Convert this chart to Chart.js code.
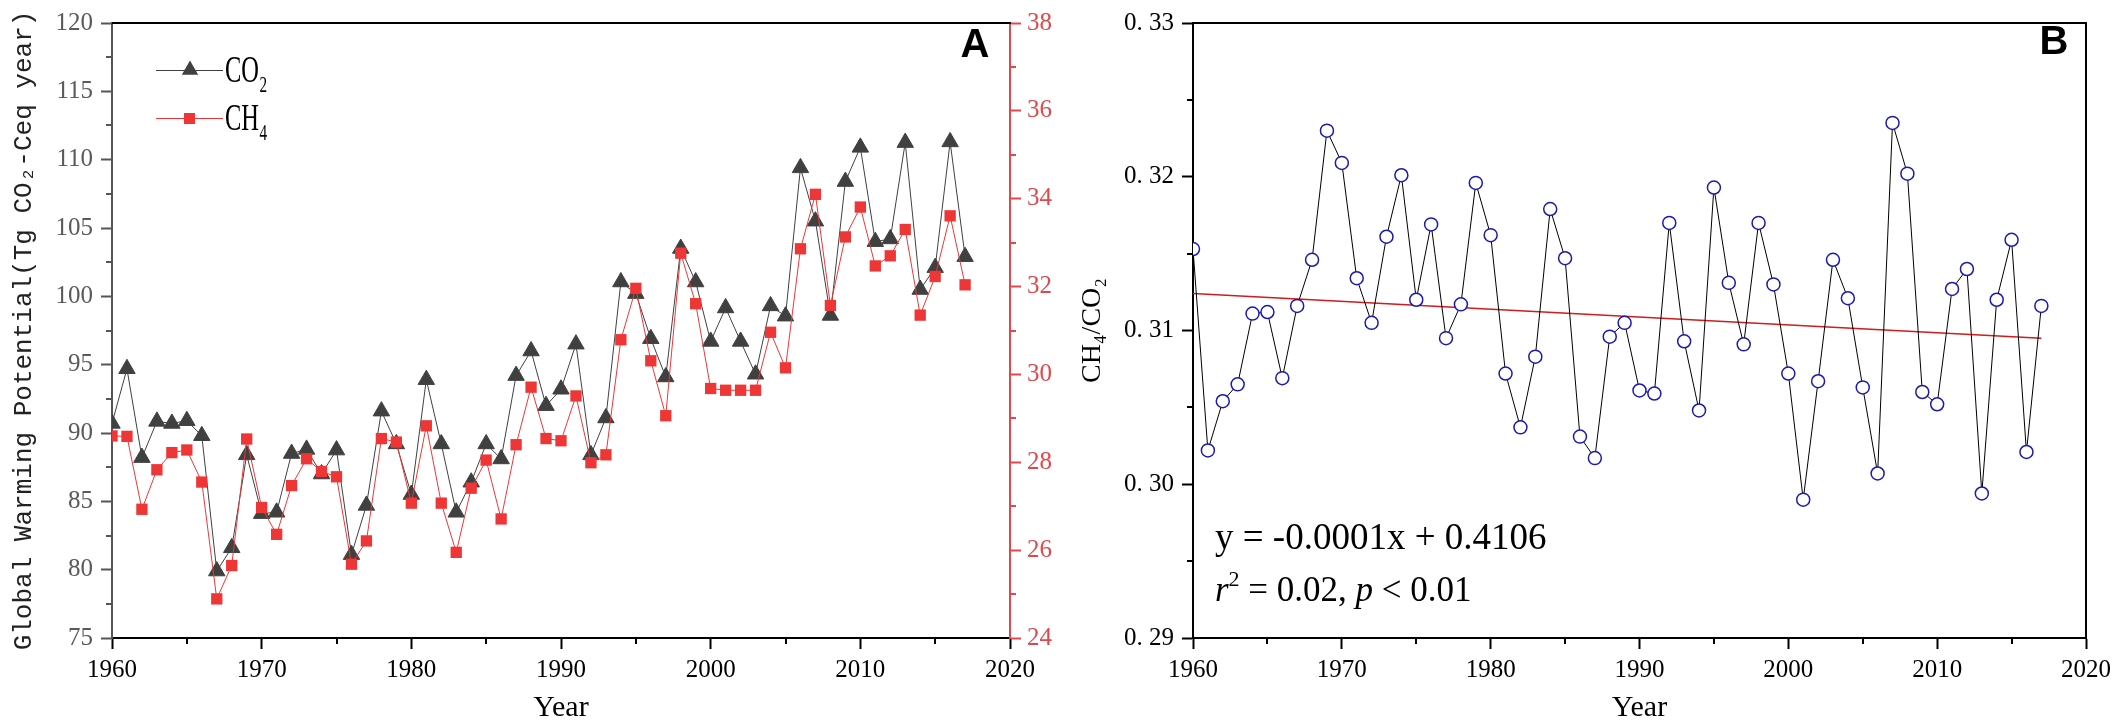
<!DOCTYPE html>
<html>
<head>
<meta charset="utf-8">
<script src="https://cdn.jsdelivr.net/npm/chart.js@4.4.1/dist/chart.umd.min.js"></script>
<style>
  html, body { margin: 0; padding: 0; background: #fff; }
  #wrap { position: relative; width: 2117px; height: 725px; overflow: hidden; }
  #chartA { position: absolute; left: 0; top: 0; }
  #chartB { position: absolute; left: 1060px; top: 0; }
</style>
</head>
<body>
<div id="wrap">
  <canvas id="chartA" width="1060" height="725"></canvas>
  <canvas id="chartB" width="1057" height="725"></canvas>
</div>
<script>
// ---- data ----
const years = [1960, 1961, 1962, 1963, 1964, 1965, 1966, 1967, 1968, 1969,
               1970, 1971, 1972, 1973, 1974, 1975, 1976, 1977, 1978, 1979,
               1980, 1981, 1982, 1983, 1984, 1985, 1986, 1987, 1988, 1989,
               1990, 1991, 1992, 1993, 1994, 1995, 1996, 1997, 1998, 1999,
               2000, 2001, 2002, 2003, 2004, 2005, 2006, 2007, 2008, 2009,
               2010, 2011, 2012, 2013, 2014, 2015, 2016, 2017];

// GWP of CO2 (left axis)
const co2 = [90.7, 94.7, 88.2, 90.85, 90.7, 90.9, 89.8, 79.9, 81.6, 88.4,
             84.1, 84.2, 88.5, 88.8, 87.0, 88.75, 81.1, 84.7, 91.6, 89.2,
             85.5, 93.9, 89.2, 84.2, 86.4, 89.2, 88.1, 94.2, 96.0, 92.0,
             93.2, 96.5, 88.4, 91.1, 101.05, 100.2, 96.9, 94.1, 103.5, 101.05,
             96.7, 99.15, 96.7, 94.3, 99.3, 98.55, 109.4, 105.5, 98.6, 108.4,
             110.9, 104.0, 104.2, 111.25, 100.5, 102.1, 111.3, 102.9];

// GWP of CH4 (right axis)
const ch4 = [28.6, 28.59, 26.93, 27.83, 28.22, 28.28, 27.55, 24.89, 25.65, 28.53,
             26.97, 26.36, 27.47, 28.08, 27.79, 27.67, 25.68, 26.21, 28.54, 28.46,
             27.07, 28.83, 27.07, 25.95, 27.41, 28.05, 26.71, 28.4, 29.71, 28.54,
             28.49, 29.51, 27.99, 28.17, 30.79, 31.96, 30.31, 29.06, 32.76, 31.61,
             29.68, 29.64, 29.64, 29.64, 30.96, 30.15, 32.86, 34.1, 31.57, 33.13,
             33.81, 32.47, 32.7, 33.3, 31.35, 32.23, 33.61, 32.04];

// CH4/CO2 ratio
const ratio = [0.3153, 0.3022, 0.3054, 0.3065, 0.3111, 0.3112, 0.3069, 0.3116, 0.3146, 0.3230,
               0.3209, 0.3134, 0.3105, 0.3161, 0.3201, 0.3120, 0.3169, 0.3095, 0.3117, 0.3196,
               0.3162, 0.3072, 0.3037, 0.3083, 0.3179, 0.3147, 0.3031, 0.3017, 0.3096, 0.3105,
               0.3061, 0.3059, 0.3170, 0.3093, 0.3048, 0.3193, 0.3131, 0.3091, 0.3170, 0.3130,
               0.3072, 0.2990, 0.3067, 0.3146, 0.3121, 0.3063, 0.3007, 0.3235, 0.3202, 0.3060,
               0.3052, 0.3127, 0.3140, 0.2994, 0.3120, 0.3159, 0.3021, 0.3116];

// fitted trend line end points
const trendYears = [1960, 2017];
const trendValues = [0.3124, 0.3095];

const xTicks = { min: 1960, max: 2020, step: 10 };
const leftTicks = { min: 75, max: 120, step: 5 };
const rightTicks = { min: 24, max: 38, step: 2 };
const ratioTicks = { min: 0.29, max: 0.33, step: 0.01 };

// ---- styles ----
const serif = "'Liberation Serif', 'Times New Roman', serif";
const mono = "'Liberation Mono', 'DejaVu Sans Mono', monospace";
const grayCol = '#404040';
const axisGray = '#555555';
const redCol = '#ee3636';
const axisRed = '#e2474b';
const blueCol = '#1a1ab4';

Chart.defaults.font.family = serif;
Chart.defaults.animation = false;

function pts(xs, vals) { return xs.map((x, i) => ({ x: x, y: vals[i] })); }

// small ticks halfway between the labelled ones
function minorTicks(axes) {
  return {
    id: 'minorTicks',
    afterDraw(chart) {
      const ctx = chart.ctx;
      axes.forEach(a => {
        const scale = chart.scales[a.id];
        const vals = scale.ticks.map(t => t.value);
        ctx.save();
        ctx.strokeStyle = a.color;
        ctx.lineWidth = 2;
        for (let i = 0; i < vals.length - 1; i++) {
          const p = Math.round(scale.getPixelForValue((vals[i] + vals[i + 1]) / 2));
          ctx.beginPath();
          if (a.side === 'bottom') { ctx.moveTo(p, scale.top); ctx.lineTo(p, scale.top + a.len); }
          else if (a.side === 'left') { ctx.moveTo(scale.right, p); ctx.lineTo(scale.right - a.len, p); }
          else { ctx.moveTo(scale.left, p); ctx.lineTo(scale.left + a.len, p); }
          ctx.stroke();
        }
        ctx.restore();
      });
    }
  };
}

// closing lines of the frame
function frame(sides) {
  return {
    id: 'frame',
    afterDraw(chart) {
      const { ctx, chartArea: c } = chart;
      ctx.save();
      ctx.strokeStyle = '#000';
      ctx.lineWidth = 2;
      ctx.beginPath();
      if (sides.includes('top')) { ctx.moveTo(c.left, c.top); ctx.lineTo(c.right + 1, c.top); }
      if (sides.includes('right')) { ctx.moveTo(c.right, c.top); ctx.lineTo(c.right, c.bottom); }
      ctx.stroke();
      ctx.restore();
    }
  };
}

function panelLetter(letter, x, y) {
  return {
    id: 'panelLetter',
    afterDraw(chart) {
      const ctx = chart.ctx;
      ctx.save();
      ctx.font = "bold 40px 'Liberation Sans', Arial, sans-serif";
      ctx.fillStyle = '#000';
      ctx.textAlign = 'center';
      ctx.textBaseline = 'middle';
      ctx.fillText(letter, x, y);
      ctx.restore();
    }
  };
}

// text with a lowered small part, squeezed like the original font
function drawSub(ctx, x, y, main, sub, size, squeeze) {
  ctx.save();
  ctx.translate(x, y);
  ctx.scale(squeeze, 1);
  ctx.font = size + 'px ' + serif;
  ctx.fillText(main, 0, 0);
  const w = ctx.measureText(main).width;
  ctx.font = Math.round(size * 0.62) + 'px ' + serif;
  ctx.fillText(sub, w + 1, size * 0.26);
  ctx.restore();
}

const legendA = {
  id: 'legendA',
  afterDraw(chart) {
    const ctx = chart.ctx;
    ctx.save();
    ctx.lineWidth = 1;
    // CO2 row
    ctx.strokeStyle = grayCol;
    ctx.beginPath(); ctx.moveTo(156, 70.5); ctx.lineTo(223, 70.5); ctx.stroke();
    ctx.fillStyle = grayCol;
    ctx.beginPath();
    ctx.moveTo(190, 70 - 9.5); ctx.lineTo(190 + 8.2, 70 + 4.75); ctx.lineTo(190 - 8.2, 70 + 4.75);
    ctx.closePath(); ctx.fill();
    ctx.fillStyle = '#000';
    ctx.textBaseline = 'alphabetic';
    drawSub(ctx, 225, 82, 'CO', '2', 37, 0.66);
    // CH4 row
    ctx.strokeStyle = redCol;
    ctx.beginPath(); ctx.moveTo(156, 118.5); ctx.lineTo(223, 118.5); ctx.stroke();
    ctx.fillStyle = redCol;
    ctx.fillRect(184, 113, 11, 11);
    ctx.fillStyle = '#000';
    drawSub(ctx, 225, 130, 'CH', '4', 37, 0.66);
    ctx.restore();
  }
};

const equationB = {
  id: 'equationB',
  afterDraw(chart) {
    const ctx = chart.ctx;
    ctx.save();
    ctx.fillStyle = '#000';
    ctx.textBaseline = 'alphabetic';
    ctx.font = '37px ' + serif;
    ctx.fillText('y = -0.0001x + 0.4106', 155, 549);
    const size = 35;
    const normal = size + 'px ' + serif;
    const italic = 'italic ' + size + 'px ' + serif;
    let x = 155;
    const y = 601;
    const parts = [
      { t: 'r', f: italic, dy: 0 },
      { t: '2', f: Math.round(size * 0.62) + 'px ' + serif, dy: -15 },
      { t: ' = 0.02, ', f: normal, dy: 0 },
      { t: 'p', f: italic, dy: 0 },
      { t: ' < 0.01', f: normal, dy: 0 }
    ];
    parts.forEach(p => {
      ctx.font = p.f;
      ctx.fillText(p.t, x, y + p.dy);
      x += ctx.measureText(p.t).width;
    });
    ctx.restore();
  }
};

const xScale = {
  type: 'linear',
  min: xTicks.min, max: xTicks.max,
  border: { color: '#000', width: 2 },
  grid: { drawOnChartArea: false, drawTicks: true, tickLength: 11, tickColor: '#000', tickWidth: 2 },
  ticks: { stepSize: xTicks.step, color: '#000', font: { size: 25 }, padding: 6, callback: v => String(v) },
  title: { display: true, text: 'Year', color: '#000', font: { size: 30, lineHeight: 1 }, padding: { top: 0, bottom: 2 } },
  afterFit: s => { s.height = 87; }
};

// ---- panel A ----
new Chart(document.getElementById('chartA'), {
  type: 'line',
  data: {
    datasets: [
      {
        label: 'CO2', data: pts(years, co2), yAxisID: 'y', order: 2,
        borderColor: grayCol, borderWidth: 1, tension: 0,
        pointStyle: 'triangle', pointRadius: 9.5, pointBackgroundColor: grayCol, pointBorderColor: grayCol, pointBorderWidth: 1
      },
      {
        label: 'CH4', data: pts(years, ch4), yAxisID: 'y2', order: 1,
        borderColor: redCol, borderWidth: 1, tension: 0,
        pointStyle: 'rect', pointRadius: 8, pointBackgroundColor: redCol, pointBorderColor: redCol, pointBorderWidth: 0
      }
    ]
  },
  options: {
    responsive: false,
    devicePixelRatio: 1,
    layout: { padding: { top: 15, left: 0, right: 0, bottom: 0 } },
    plugins: { legend: { display: false }, tooltip: { enabled: false } },
    scales: {
      x: xScale,
      y: {
        position: 'left',
        min: leftTicks.min, max: leftTicks.max,
        border: { color: axisGray, width: 2 },
        grid: { drawOnChartArea: false, tickLength: 11, tickColor: axisGray, tickWidth: 2 },
        ticks: { stepSize: leftTicks.step, color: '#5a5a5a', font: { size: 25 }, padding: 8 },
        title: { display: true, text: 'Global Warming Potential(Tg CO₂-Ceq year)', color: '#222', font: { family: mono, size: 26, lineHeight: 1.2 }, padding: { top: 9, bottom: 0 } },
        afterFit: s => { s.width = 112; }
      },
      y2: {
        position: 'right',
        min: rightTicks.min, max: rightTicks.max,
        border: { color: axisRed, width: 2 },
        grid: { drawOnChartArea: false, tickLength: 11, tickColor: axisRed, tickWidth: 2 },
        ticks: { stepSize: rightTicks.step, color: axisRed, font: { size: 25 }, padding: 6 },
        afterFit: s => { s.width = 50; }
      }
    }
  },
  plugins: [
    minorTicks([
      { id: 'x', side: 'bottom', len: 6, color: '#000' },
      { id: 'y', side: 'left', len: 6, color: axisGray },
      { id: 'y2', side: 'right', len: 6, color: axisRed }
    ]),
    frame(['top']),
    legendA,
    panelLetter('A', 975, 46)
  ]
});

// ---- panel B ----
new Chart(document.getElementById('chartB'), {
  type: 'line',
  data: {
    datasets: [
      {
        label: 'CH4/CO2', data: pts(years, ratio), order: 1,
        borderColor: '#000', borderWidth: 1, tension: 0,
        pointStyle: 'circle', pointRadius: 6.5, pointBackgroundColor: '#fff', pointBorderColor: blueCol, pointBorderWidth: 1.5
      },
      {
        label: 'trend', data: pts(trendYears, trendValues), order: 2,
        borderColor: '#d01c1c', borderWidth: 1.5, pointRadius: 0, tension: 0
      }
    ]
  },
  options: {
    responsive: false,
    devicePixelRatio: 1,
    layout: { padding: { top: 15, left: 0, right: 29, bottom: 0 } },
    plugins: { legend: { display: false }, tooltip: { enabled: false } },
    scales: {
      x: xScale,
      y: {
        position: 'left',
        min: ratioTicks.min, max: ratioTicks.max,
        border: { color: '#000', width: 2 },
        grid: { drawOnChartArea: false, tickLength: 11, tickColor: '#000', tickWidth: 2 },
        ticks: { stepSize: ratioTicks.step, color: '#000', font: { size: 25 }, padding: 8, callback: v => v.toFixed(2).replace('.', '. ') },
        title: { display: true, text: 'CH₄/CO₂', color: '#000', font: { size: 28, lineHeight: 1.2 }, padding: { top: 16, bottom: 0 } },
        afterFit: s => { s.width = 133; }
      }
    }
  },
  plugins: [
    minorTicks([
      { id: 'x', side: 'bottom', len: 6, color: '#000' },
      { id: 'y', side: 'left', len: 6, color: '#000' }
    ]),
    frame(['top', 'right']),
    equationB,
    panelLetter('B', 994, 43)
  ]
});
</script>
</body>
</html>
